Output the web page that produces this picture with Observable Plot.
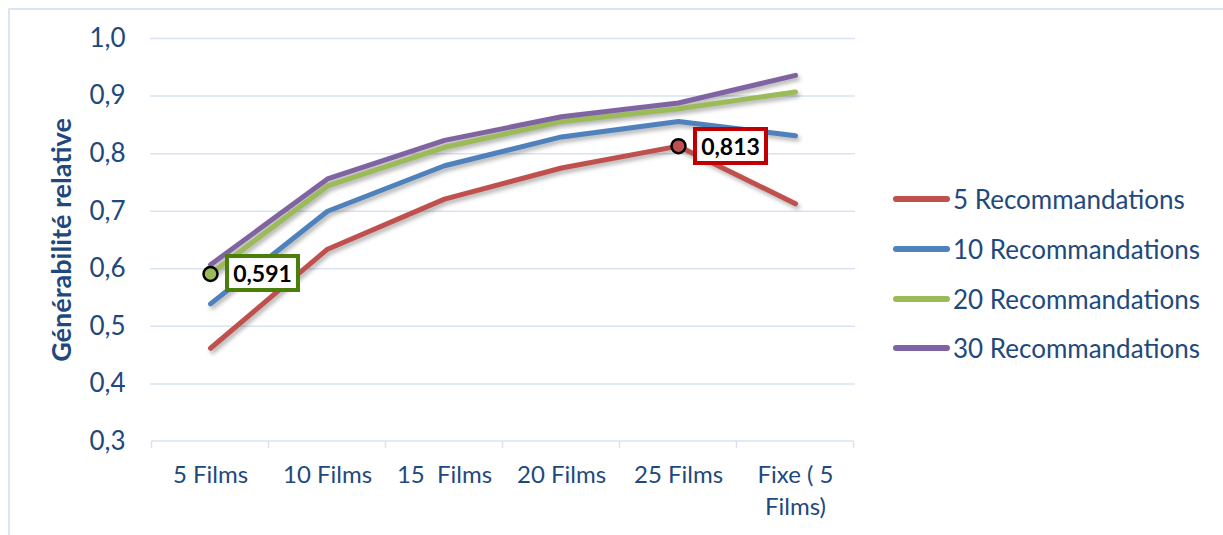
<!DOCTYPE html>
<html>
<head>
<meta charset="utf-8">
<script src="https://cdn.jsdelivr.net/npm/d3@7"></script>
<script src="https://cdn.jsdelivr.net/npm/@observablehq/plot@0.6"></script>
<style>
  html, body { margin: 0; padding: 0; background: #fff; overflow: hidden; }
  #wrap { position: relative; width: 1223px; height: 535px; overflow: hidden; font-family: Lato, "Open Sans", sans-serif; }
  #frame { position: absolute; left: 8px; top: 8px; width: 1400px; height: 800px; border-top: 2px solid #DCE6F2; border-left: 2px solid #DCE6F2; }
  #plot { position: absolute; left: 0; top: 0; }
  .leg { position: absolute; left: 893px; height: 30px; display: flex; align-items: center; }
  .leg .sw { width: 57px; height: 6px; border-radius: 3px; margin-right: 3px; }
  .leg .lb { font-size: 26px; color: #1F497D; white-space: nowrap; }
  .ann { position: absolute; box-sizing: border-box; width: 75px; height: 38px; border: 4px solid; background: #fff;
         display: flex; align-items: center; justify-content: center; font-weight: bold; font-size: 23px; color: #000; }
</style>
</head>
<body>
<div id="wrap">
  <div id="frame"></div>
  <div id="plot"></div>
</div>
<script>
// ---- data ----
const categories = ["5 Films", "10 Films", "15  Films", "20 Films", "25 Films", "Fixe ( 5 Films)"];
const categoryLabels = ["5 Films", "10 Films", "15  Films", "20 Films", "25 Films", "Fixe ( 5\nFilms)"];
const seriesNames = ["5 Recommandations", "10 Recommandations", "20 Recommandations", "30 Recommandations"];
const seriesColors = ["#C0504D", "#4F81BD", "#9BBB59", "#8064A2"];
const reco5  = [0.462, 0.634, 0.721, 0.775, 0.813, 0.713];
const reco10 = [0.539, 0.700, 0.779, 0.829, 0.856, 0.831];
const reco20 = [0.591, 0.744, 0.811, 0.856, 0.878, 0.907];
const reco30 = [0.607, 0.756, 0.823, 0.864, 0.888, 0.936];
const yTicks = [0.3, 0.4, 0.5, 0.6, 0.7, 0.8, 0.9, 1.0];
const yTickLabels = ["0,3", "0,4", "0,5", "0,6", "0,7", "0,8", "0,9", "1,0"];
const yTitle = "Générabilité relative";
const annotations = [
  {series: "20 Recommandations", cat: "5 Films", value: 0.591, label: "0,591", box: "#4A7F0A"},
  {series: "5 Recommandations", cat: "25 Films", value: 0.813, label: "0,813", box: "#C00000"}
];

const allSeries = [reco5, reco10, reco20, reco30];
const rows = [];
seriesNames.forEach((s, i) => categories.forEach((c, j) => rows.push({series: s, cat: c, value: allSeries[i][j]})));

const gridColor = "#D9E3F1";
const textColor = "#1F497D";

const chart = Plot.plot({
  width: 870,
  height: 535,
  marginLeft: 150,
  marginRight: 15,
  marginTop: 38,
  marginBottom: 94,
  style: {fontFamily: "Lato, 'Open Sans', sans-serif", color: textColor, background: "transparent", overflow: "visible"},
  x: {type: "point", domain: categories, padding: 0.5},
  y: {domain: [0.3, 1.0]},
  color: {domain: seriesNames, range: seriesColors},
  marks: [
    Plot.gridY(yTicks.slice(1), {stroke: gridColor, strokeOpacity: 1, strokeWidth: 1.5}),
    Plot.axisY(yTicks, {tickSize: 0, tickPadding: 25, fontSize: 26, label: null,
      tickFormat: d => yTickLabels[yTicks.findIndex(t => Math.abs(t - d) < 1e-9)]}),
    Plot.axisX({tickSize: 0, tickPadding: 18, fontSize: 24, label: null, lineHeight: 1.35,
      tickFormat: d => categoryLabels[categories.indexOf(d)]}),
    Plot.line(rows, {x: "cat", y: "value", stroke: "series", z: "series", strokeWidth: 5, strokeLinecap: "round", strokeLinejoin: "round"}),
    Plot.dot(annotations, {x: "cat", y: "value", fill: "series", stroke: "black", strokeWidth: 2.5, r: 7}),
    Plot.text([yTitle], {frameAnchor: "left", textAnchor: "middle", rotate: -90, dx: -88, fontSize: 27, fontWeight: "bold", fill: textColor})
  ]
});
document.getElementById("plot").appendChild(chart);

// shadow on lines
d3.select(chart).selectAll('g[aria-label="line"]').style("filter", "drop-shadow(2px 3px 2px rgba(0,0,0,0.3))");
d3.select(chart).selectAll('g[aria-label="x-axis tick label"] text, g[aria-label="x-axis tick label"] tspan').style("white-space", "pre");

// x axis baseline and boundary tick marks from the Plot scales
const xs = chart.scale("x"), ys = chart.scale("y");
const pos = categories.map(c => xs.apply(c));
const step = pos[1] - pos[0];
const bounds = pos.map(p => p - step / 2).concat([pos[pos.length - 1] + step / 2]);
const y0 = ys.apply(0.3);
const svg = d3.select(chart);
const g = svg.insert("g", 'g[aria-label="line"]').attr("stroke", gridColor).attr("stroke-width", 1.5);
g.append("line").attr("x1", bounds[0]).attr("x2", bounds[bounds.length - 1]).attr("y1", y0).attr("y2", y0);
bounds.forEach(b => g.append("line").attr("x1", b).attr("x2", b).attr("y1", y0).attr("y2", y0 + 7));

// legend
const wrap = document.getElementById("wrap");
const legTop = [199, 249, 299, 348];
seriesNames.forEach((s, i) => {
  const d = document.createElement("div");
  d.className = "leg";
  d.style.top = (ys.apply(1.0) + (legTop[i] - 38) - 15) + "px";
  d.innerHTML = `<div class="sw" style="background:${seriesColors[i]}"></div><div class="lb">${s}</div>`;
  wrap.appendChild(d);
});

// annotation boxes positioned with the Plot scales
annotations.forEach(a => {
  const d = document.createElement("div");
  d.className = "ann";
  d.style.borderColor = a.box;
  d.style.left = (xs.apply(a.cat) + 15) + "px";
  d.style.top = (ys.apply(a.value) - 19) + "px";
  d.textContent = a.label;
  wrap.appendChild(d);
});
</script>
</body>
</html>
